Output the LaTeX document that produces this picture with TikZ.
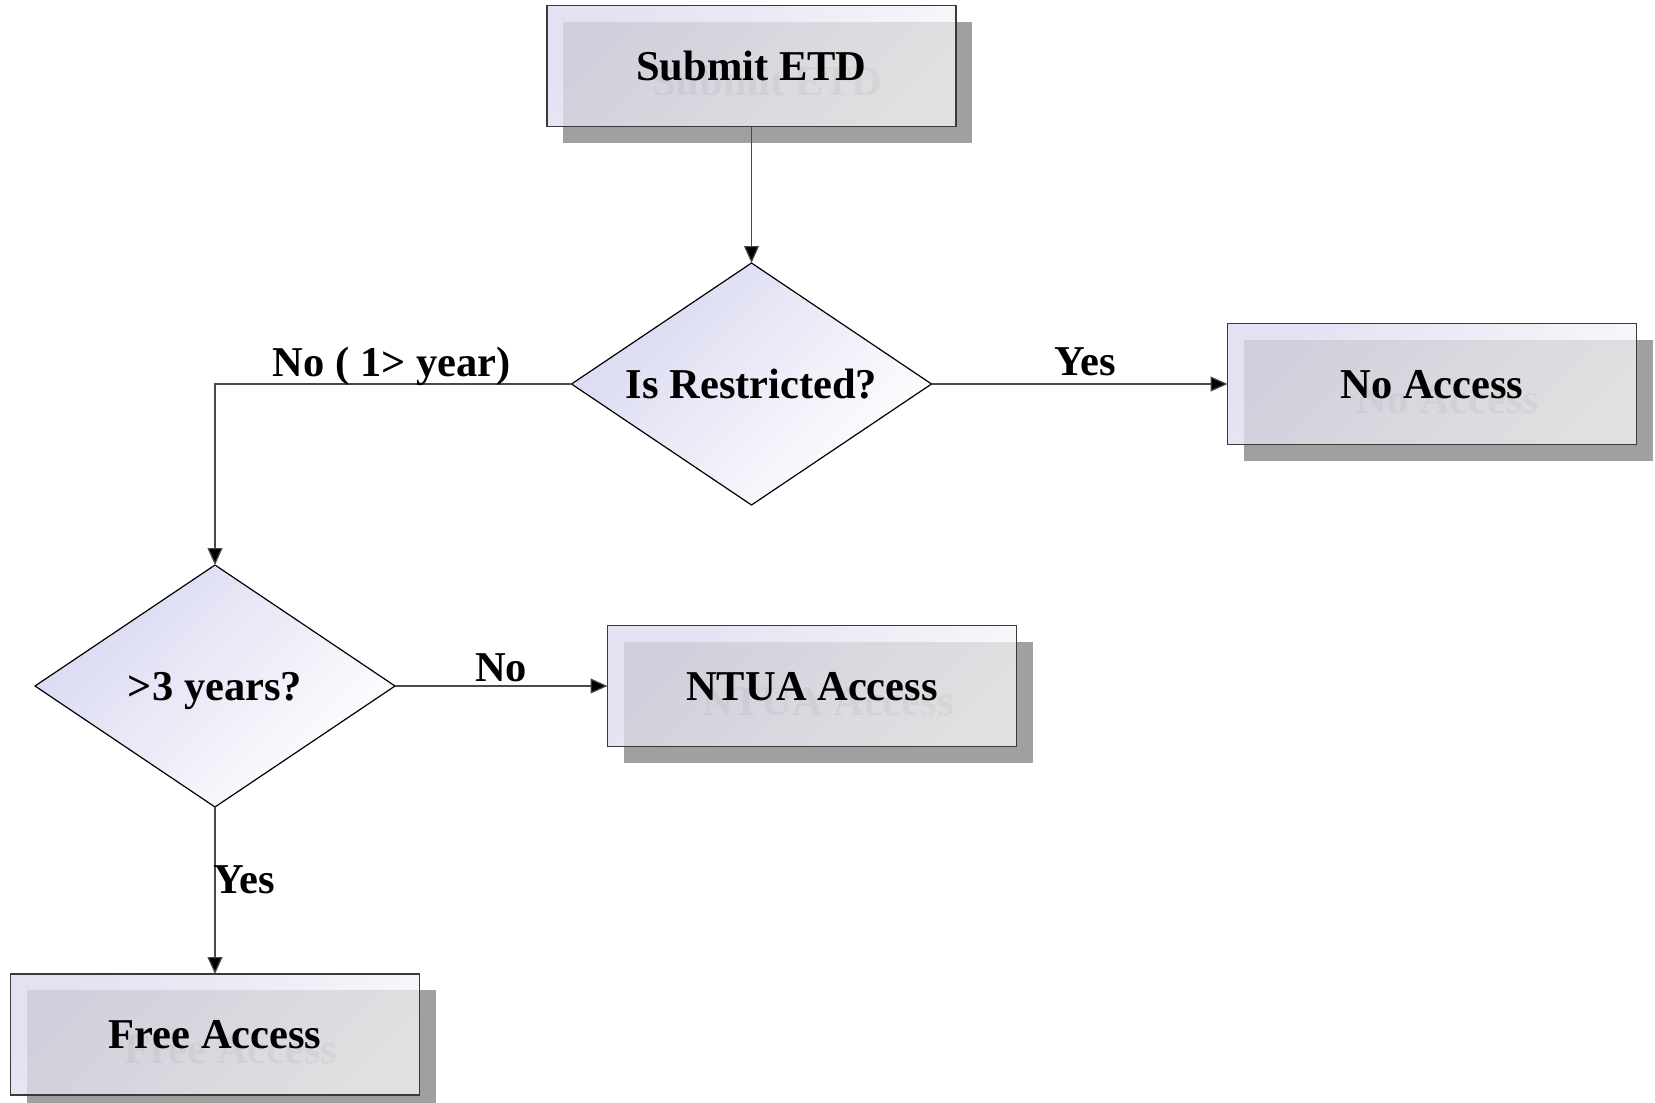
\documentclass[tikz,border=0pt]{standalone}
\usepackage{fontspec}
\setmainfont{Liberation Serif}
\usetikzlibrary{shapes.geometric,arrows.meta,shadows}
\definecolor{boxA}{HTML}{E2E2F3}
\definecolor{boxB}{HTML}{F8F8FB}
\definecolor{dA}{HTML}{D8D8F1}
\definecolor{dB}{HTML}{FFFFFF}
\definecolor{shd}{HTML}{A0A0A0}
\definecolor{edgec}{HTML}{3A3A3A}
\definecolor{connc}{HTML}{4A4A4A}
\begin{document}
\begin{tikzpicture}[x=0.5pt,y=-0.5pt,
  every node/.style={font=\fontsize{21.25}{25}\selectfont\bfseries},
  box/.style={rectangle, draw=edgec, line width=0.75pt, outer sep=0pt, inner sep=0pt,
    minimum width=204.5pt, minimum height=60.5pt, text height=14pt, text depth=0pt,
    left color=boxA, right color=boxB, shading angle=45,
    drop shadow={shadow xshift=8pt, shadow yshift=-8pt, fill=shd, opacity=1},
    path picture={
      \fill[shd, opacity=0.27] ([shift={(8pt,-8pt)}]path picture bounding box.north west) rectangle (path picture bounding box.south east);
      \node[draw=none, fill=none, text=black, opacity=0.04, inner sep=0pt, text height=14pt, text depth=0pt]
        at ([shift={(8pt,-7.5pt)}]path picture bounding box.center) {#1};
    }},
  dia/.style={diamond, draw=black, line width=0.6pt, outer sep=0pt, inner sep=0pt,
    shape aspect=1.5, minimum width=180pt, minimum height=121pt,
    text height=14pt, text depth=0pt,
    left color=dA, right color=dB, shading angle=45},
  conn/.style={draw=connc, line width=0.6pt, -{Triangle[length=8.5pt,width=7.5pt,fill=black]}},
  lbl/.style={inner sep=0pt, text=black}
]
\useasboundingbox (0,0) rectangle (1655,1103);

\node[box=Submit ETD] (sub) at (751.5,66) {Submit ETD};
\node[dia] (isr) at (751.5,384) {Is Restricted?};
\node[box=No Access] (noa) at (1432,384) {No Access};
\node[dia] (y3) at (215,686) {>3 years?};
\node[box=NTUA Access] (ntua) at (812,686) {NTUA Access};
\node[box=Free Access] (free) at (215,1034.5) {Free Access};

\draw[conn] (sub.south) -- (isr.north);
\draw[conn] (isr.west) -| node[lbl, pos=0.252, anchor=base, yshift=4pt] {No ( 1> year)} (y3.north);
\draw[conn] (isr.east) -- node[lbl, pos=0.52, anchor=base, yshift=4.5pt] {Yes} (noa.west);
\draw[conn] (y3.east) -- node[lbl, pos=0.5, anchor=base, yshift=2.5pt] {No} (ntua.west);
\draw[conn] (y3.south) -- node[lbl, pos=0.518, anchor=base west, xshift=-1pt] {Yes} (free.north);
\end{tikzpicture}
\end{document}
